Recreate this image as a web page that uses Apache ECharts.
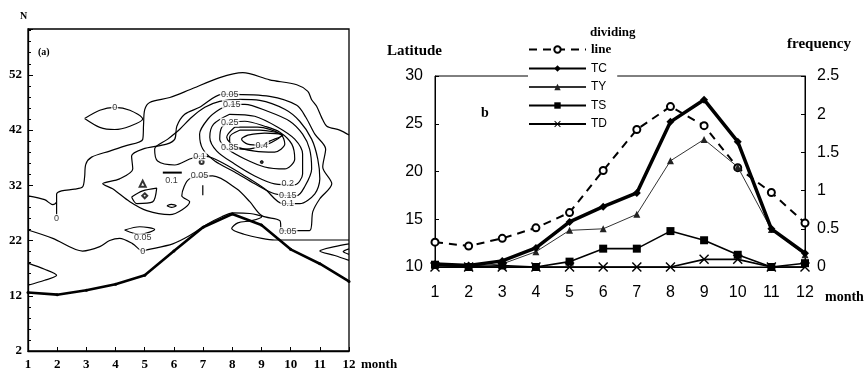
<!DOCTYPE html>
<html><head><meta charset="utf-8">
<script src="https://cdn.jsdelivr.net/npm/echarts@6/dist/echarts.min.js"></script>
<style>html,body{margin:0;padding:0;background:#fff}#c{width:866px;height:371px}</style>
</head><body><div id="c"></div>
<script>
// ---- data ----
const months = [1,2,3,4,5,6,7,8,9,10,11,12];
const dividingLine = [12.6,12.2,13.0,14.1,15.7,20.1,24.4,26.8,24.8,20.4,17.8,14.6];
const tcFreq = [0.04,0.02,0.08,0.25,0.59,0.79,0.97,1.90,2.19,1.64,0.50,0.18];
const tyFreq = [0.02,0.01,0.04,0.20,0.48,0.50,0.69,1.39,1.67,1.31,0.49,0.16];
const tsFreq = [0.03,0.00,0.02,0.00,0.07,0.24,0.24,0.47,0.35,0.16,0.00,0.05];
const tdFreq = [0,0,0,0,0,0,0,0,0.10,0.10,0,0];
const seriesNames = ['dividing line','TC','TY','TS','TD'];

// contour lines of panel (a): [month, latitude]
const contourZeroOuter = [[1.0,30.1],[1.57,29.4],[1.85,28.5],[1.98,29.0],[1.98,30.4],[2.15,31.0],[2.6,31.3],[2.87,31.7],[2.94,33.5],[2.98,35.8],[3.18,37.1],[3.8,38.2],[4.31,39.1],[4.93,40.3],[4.96,43.0],[5.0,45.7],[5.17,47.0],[5.86,47.9],[6.54,49.3],[7.57,51.5],[8.36,52.4],[9.28,51.1],[10.21,50.2],[10.59,49.0],[10.72,47.5],[10.89,46.3],[11.06,44.3],[11.24,42.7],[11.68,42.0],[12.0,41.1]];
const contourZeroStub = [[1.98,29.0],[1.98,26.4]];
const contourZeroEllipse = [[2.94,44.1],[3.46,45.6],[3.97,46.1],[4.49,45.6],[4.93,44.0],[4.49,42.7],[3.97,42.1],[3.46,42.5],[2.94,44.1]];
const contourZeroLower = [[1.0,23.9],[1.85,22.4],[2.87,20.1],[3.46,20.9],[3.8,22.0],[4.14,22.4],[4.59,21.4],[4.93,20.1],[5.07,20.3],[5.96,21.4],[6.54,22.9],[7.12,24.9],[7.64,26.3],[8.02,27.0],[8.6,26.9],[9.01,26.3],[8.67,25.6],[8.19,25.2],[7.98,24.2],[8.43,23.1],[9.01,22.4],[9.45,22.1],[12.0,22.1]];
const contourLeftLens = [[1.0,17.9],[1.57,16.8],[1.98,15.7],[1.57,14.8],[1.0,13.9]];
const contourRightLens = [[12.0,21.4],[11.51,20.9],[11.0,20.1],[11.51,19.3],[12.0,18.4]];
const contourRightInner = [[12.0,20.5],[11.8,20.0],[12.0,19.5]];
const contourSmallLens = [[4.31,23.9],[4.83,24.5],[5.34,24.0],[4.83,23.1],[4.31,23.9]];
const contourSmallLoop = [[4.55,29.9],[4.93,31.0],[5.41,31.5],[5.27,29.0],[4.73,28.7],[4.55,29.9]];
const contourSmallOval = [[5.76,28.3],[5.92,28.55],[6.08,28.3],[5.92,28.0],[5.76,28.3]];
const contour005 = [[7.91,48.45],[9.28,48.09],[10.21,46.48],[10.52,44.32],[10.83,41.26],[11.2,38.56],[11.1,35.32],[11.41,32.27],[11.0,29.57],[10.76,27.23],[10.65,23.81],[9.69,23.81],[9.63,25.61],[9.01,26.51],[8.6,29.03],[8.15,31.37],[7.33,33.7],[6.54,33.17],[6.27,30.11],[6.54,29.03],[5.86,26.69],[5.07,27.41],[4.49,29.03],[3.9,31.37],[3.56,32.27],[4.14,33.17],[4.59,34.96],[4.55,37.3],[4.93,38.56],[5.75,39.46],[6.03,40.36],[6.1,42.7],[6.37,44.86],[6.88,46.12],[7.64,48.45],[7.91,48.45]];
const contour010 = [[6.88,37.3],[7.23,37.12],[7.74,35.86],[8.43,33.7],[9.11,31.37],[9.73,28.67],[10.31,28.67],[10.83,30.47],[11.0,33.17],[10.93,36.76],[10.72,40.36],[10.31,43.6],[9.8,45.76],[8.94,47.37],[8.25,47.55],[7.57,47.19],[7.06,46.12],[6.61,44.32],[6.2,42.16],[5.79,40.36],[5.34,38.56],[5.44,36.4],[6.03,35.68],[6.54,36.76],[6.88,37.3]];
const contour015 = [[7.98,46.66],[8.43,46.66],[9.21,45.4],[9.97,43.6],[10.41,41.26],[10.65,38.56],[10.72,34.96],[10.48,31.73],[10.21,30.11],[9.45,30.47],[8.77,32.27],[8.08,34.42],[7.4,36.4],[6.99,38.56],[6.88,41.26],[7.16,43.96],[7.57,45.76],[7.98,46.66]];
const contour020 = [[7.91,44.86],[8.77,44.5],[9.56,42.52],[10.14,40.36],[10.41,37.66],[10.41,34.06],[10.14,32.09],[9.45,32.27],[8.77,33.7],[8.08,35.86],[7.47,38.2],[7.23,40.72],[7.36,43.06],[7.91,44.86]];
const contour025 = [[7.91,43.42],[8.43,43.6],[9.11,42.7],[9.63,41.62],[10.04,39.46],[10.14,36.76],[9.8,34.96],[9.11,35.32],[8.43,36.76],[7.84,38.56],[7.57,40.36],[7.64,42.52],[7.91,43.42]];
const contour030 = [[8.08,42.52],[8.87,42.52],[9.66,41.26],[9.8,39.46],[9.45,38.02],[8.77,38.2],[8.08,39.1],[7.81,40.72],[8.08,42.52]];
const contour035 = [[8.25,41.98],[8.94,41.98],[9.69,41.08],[9.21,39.46],[8.43,38.56],[7.91,38.92],[7.91,40.72],[8.25,41.98]];
const contour040 = [[8.53,41.08],[9.11,41.44],[9.73,41.08],[9.28,40.0],[9.01,39.28],[8.53,39.46],[8.32,40.36],[8.53,41.08]];
const contourBar = [[6.99,32.0],[6.99,30.2]];
const contourOverbar = [[5.62,34.3],[6.27,34.3]];
const contourLabels = [[1.98,26.0,'0'],[3.97,46.1,'0'],[4.93,20.0,'0'],[4.93,22.5,'0.05'],[7.91,48.45,'0.05'],[7.98,46.66,'0.15'],[7.91,43.42,'0.25'],[7.91,38.92,'0.35'],[9.01,39.28,'0.4'],[6.88,37.3,'0.1'],[6.88,33.7,'0.05'],[9.9,32.27,'0.2'],[9.9,30.11,'0.15'],[9.9,28.67,'0.1'],[9.9,23.63,'0.05'],[5.92,32.8,'0.1']];
const smallMarks = [[4.93,32.3,'emptyTriangle',6],[5.0,30.1,'emptyDiamond',5],[6.95,36.2,'emptyCircle',4],[9.01,36.2,'circle',3]];

// ---- chart ----
const SERIF = 'Liberation Serif', SANS = 'Liberation Sans';
const chart = echarts.init(document.getElementById('c'), null, {renderer:'canvas'});
const contours = [contourZeroOuter,contourZeroStub,contourZeroEllipse,contourZeroLower,contourLeftLens,contourRightLens,contourRightInner,contourSmallLens,contourSmallLoop,contourSmallOval,contour005,contour010,contour015,contour020,contour025,contour030,contour035,contour040,contourBar];
const series = [];
contours.forEach((c,i)=>series.push({type:'line',xAxisIndex:0,yAxisIndex:0,data:c,symbol:'none',smooth:0.3,
  lineStyle:{color:'#000',width:1.2},silent:true,z:2}));
series.push({type:'line',xAxisIndex:0,yAxisIndex:0,data:contourOverbar,symbol:'none',lineStyle:{color:'#000',width:2},z:2});
series.push({type:'line',xAxisIndex:0,yAxisIndex:0,data:months.map((m,i)=>[m,dividingLine[i]]),symbol:'circle',symbolSize:3,
  lineStyle:{color:'#000',width:2.6},itemStyle:{color:'#000'},z:3});
smallMarks.forEach(s=>series.push({type:'scatter',xAxisIndex:0,yAxisIndex:0,data:[[s[0],s[1]]],symbol:s[2],symbolSize:s[3],
  itemStyle:{color:'#000',borderColor:'#000',borderWidth:1},z:3}));
series.push({type:'scatter',xAxisIndex:0,yAxisIndex:0,data:contourLabels,symbolSize:1,itemStyle:{color:'rgba(0,0,0,0)'},z:5,
  label:{show:true,position:'inside',formatter:p=>p.data[2],fontFamily:SANS,fontSize:9,color:'#000',backgroundColor:'#fff',padding:[0,1]}});

// panel b
const crossPath = 'path://M0,1 L1,0 L5,4 L9,0 L10,1 L6,5 L10,9 L9,10 L5,6 L1,10 L0,9 L4,5 Z';
series.push({name:'dividing line',type:'line',xAxisIndex:1,yAxisIndex:1,data:months.map((m,i)=>[m,dividingLine[i]]),
  symbol:'emptyCircle',symbolSize:7,lineStyle:{color:'#000',width:2,type:[8,6]},itemStyle:{color:'#000',borderWidth:1.5},z:3});
series.push({name:'TC',type:'line',xAxisIndex:1,yAxisIndex:2,data:months.map((m,i)=>[m,tcFreq[i]]),
  symbol:'diamond',symbolSize:8,lineStyle:{color:'#000',width:3.5},itemStyle:{color:'#000'},z:4});
series.push({name:'TY',type:'line',xAxisIndex:1,yAxisIndex:2,data:months.map((m,i)=>[m,tyFreq[i]]),
  symbol:'triangle',symbolSize:7,lineStyle:{color:'#333',width:1},itemStyle:{color:'#222'},z:3});
series.push({name:'TS',type:'line',xAxisIndex:1,yAxisIndex:2,data:months.map((m,i)=>[m,tsFreq[i]]),
  symbol:'rect',symbolSize:8,lineStyle:{color:'#000',width:1.6},itemStyle:{color:'#000'},z:3});
series.push({name:'TD',type:'line',xAxisIndex:1,yAxisIndex:2,data:months.map((m,i)=>[m,tdFreq[i]]),
  symbol:crossPath,symbolSize:10,lineStyle:{color:'#000',width:1.6},itemStyle:{color:'#000'},z:3});

const txt = (x,y,t,size,font,weight)=>({type:'text',left:x,top:y,z:10,style:{text:t,fontSize:size,fontFamily:font||SERIF,fontWeight:weight||'bold',fill:'#000'}});

chart.setOption({
  animation:false,
  backgroundColor:'#fff',
  grid:[
    {left:28,right:517,top:29,bottom:18,show:true,borderColor:'#000',borderWidth:1.3,backgroundColor:'transparent'},
    {left:435,right:61,top:76,bottom:104,show:true,borderColor:'#000',borderWidth:1,backgroundColor:'transparent'}
  ],
  xAxis:[
    {gridIndex:0,type:'value',min:1,max:12,interval:1,splitLine:{show:false},
     axisLine:{lineStyle:{color:'#000',width:1.3}},axisTick:{inside:true,length:4,lineStyle:{color:'#000'}},
     axisLabel:{color:'#000',fontFamily:SERIF,fontWeight:'bold',fontSize:13,margin:7}},
    {gridIndex:1,type:'value',min:1,max:12,interval:1,splitLine:{show:false},
     axisLine:{lineStyle:{color:'#000',width:1}},axisTick:{show:false},
     axisLabel:{color:'#000',fontFamily:SANS,fontSize:16,margin:18}}
  ],
  yAxis:[
    {gridIndex:0,type:'value',min:2,max:60.3,interval:10,splitLine:{show:false},
     axisLine:{lineStyle:{color:'#000',width:1.3}},axisTick:{inside:true,length:5,lineStyle:{color:'#000'}},
     minorTick:{show:true,splitNumber:5,length:3,lineStyle:{color:'#000'}},minorSplitLine:{show:false},
     axisLabel:{color:'#000',fontFamily:SERIF,fontWeight:'bold',fontSize:13,margin:6,showMaxLabel:false}},
    {gridIndex:1,type:'value',position:'left',min:10,max:30,interval:5,splitLine:{show:false},
     axisLine:{lineStyle:{color:'#000'}},axisTick:{inside:true,length:4,lineStyle:{color:'#000'}},
     axisLabel:{color:'#000',fontFamily:SANS,fontSize:16,margin:12}},
    {gridIndex:1,type:'value',position:'right',min:0,max:2.5,interval:0.5,splitLine:{show:false},
     axisLine:{lineStyle:{color:'#000'}},axisTick:{inside:true,length:4,lineStyle:{color:'#000'}},
     axisLabel:{color:'#000',fontFamily:SANS,fontSize:16,margin:12}}
  ],
  legend:{data:seriesNames,orient:'vertical',left:528,top:43,itemWidth:57,itemHeight:8,itemGap:6.5,
    selectedMode:false,backgroundColor:'#fff',padding:[0,6,0,0],
    formatter:n=>n==='dividing line'?'{s|line}':'{t|'+n+'}',
    textStyle:{color:'#000',rich:{s:{fontFamily:SERIF,fontWeight:'bold',fontSize:13,lineHeight:12},t:{fontFamily:SANS,fontSize:12,lineHeight:12}}}},
  graphic:[
    txt(20,11,'N',10),
    txt(38,47,'(a)',10),
    txt(361,358,'month',13),
    txt(387,44,'Latitude',15),
    txt(787,37,'frequency',15),
    txt(825,290,'month',14),
    txt(481,106,'b',14),
    txt(590,26,'dividing',13)
  ],
  series:series
});
</script></body></html>
